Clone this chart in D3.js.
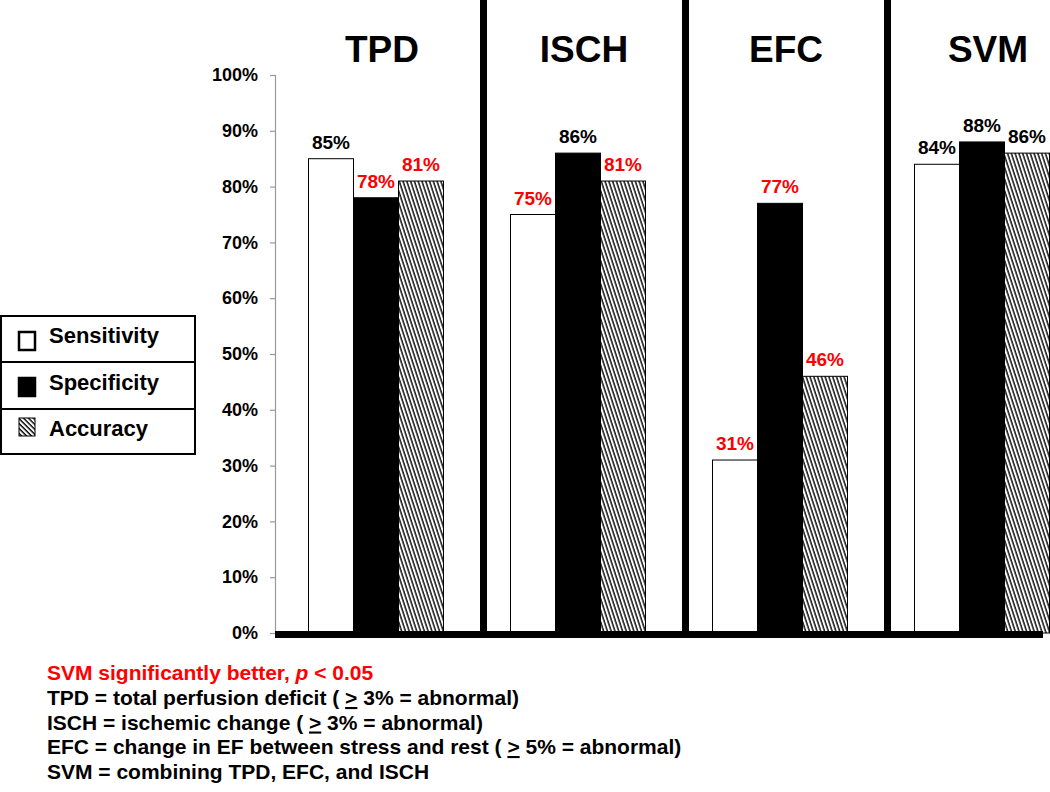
<!DOCTYPE html>
<html>
<head>
<meta charset="utf-8">
<script src="https://cdn.jsdelivr.net/npm/d3@7"></script>
<style>
  body { margin: 0; background: #fff; }
  svg { display: block; font-family: "Liberation Sans", Arial, sans-serif; font-weight: bold; }
</style>
</head>
<body>
<svg id="chart" width="1050" height="792"></svg>
<script>
// Chart data
const groups = ['TPD', 'ISCH', 'EFC', 'SVM'];
const measures = ['Sensitivity', 'Specificity', 'Accuracy'];
const sensitivity = [85, 75, 31, 84];
const specificity = [78, 86, 77, 88];
const accuracy = [81, 81, 46, 86];
// which value labels are printed in red
const sensRed = [false, true, true, false];
const specRed = [true, false, true, false];
const accRed = [true, true, true, false];
const yTicks = [0, 10, 20, 30, 40, 50, 60, 70, 80, 90, 100];
const notes = [
    'TPD = total perfusion deficit ( |>| 3% = abnormal)',
    'ISCH = ischemic change ( |>| 3% = abnormal)',
    'EFC = change in EF between stress and rest ( |>| 5% = abnormal)',
    'SVM = combining TPD, EFC, and ISCH'
];

const svg = d3.select('#chart');

// Scales
const x0 = d3.scaleBand()
    .domain(groups)
    .range([275, 1083]);

const x1 = d3.scaleBand()
    .domain(measures)
    .range([33.5, 33.5 + 135]);

const y = d3.scaleLinear()
    .domain([0, 100])
    .range([633, 75]);

// Patterns
const defs = svg.append('defs');
defs.append('pattern')
    .attr('id', 'hatch')
    .attr('patternUnits', 'userSpaceOnUse')
    .attr('width', 3.6)
    .attr('height', 10)
    .attr('patternTransform', 'rotate(-18)')
    .call(p => {
        p.append('rect').attr('width', 3.6).attr('height', 10).attr('fill', '#fff');
        p.append('line').attr('x1', 1).attr('x2', 1).attr('y1', 0).attr('y2', 10)
            .attr('stroke', '#000').attr('stroke-width', 1.4);
    });
defs.append('pattern')
    .attr('id', 'hatchLegend')
    .attr('patternUnits', 'userSpaceOnUse')
    .attr('width', 3.5)
    .attr('height', 10)
    .attr('patternTransform', 'rotate(-45)')
    .call(p => {
        p.append('rect').attr('width', 3.5).attr('height', 10).attr('fill', '#fff');
        p.append('line').attr('x1', 1).attr('x2', 1).attr('y1', 0).attr('y2', 10)
            .attr('stroke', '#000').attr('stroke-width', 1.4);
    });

const fills = { Sensitivity: '#fff', Specificity: '#000', Accuracy: 'url(#hatch)' };

// Y axis
const yAxis = svg.append('g')
    .attr('transform', 'translate(275,0)')
    .call(d3.axisLeft(y).tickValues(yTicks).tickSize(5).tickPadding(12).tickFormat(d => d + '%'));
yAxis.select('.domain').attr('stroke', '#999').attr('stroke-width', 1.2);
yAxis.selectAll('.tick line').attr('stroke', '#999').attr('stroke-width', 1.2);
yAxis.selectAll('.tick text')
    .attr('fill', '#000')
    .style('font-family', '"Liberation Sans", Arial, sans-serif')
    .style('font-weight', 'bold')
    .style('font-size', '18px');

// Bars
const rows = groups.map((g, i) => ({
    group: g,
    values: [
        { key: 'Sensitivity', value: sensitivity[i], red: sensRed[i] },
        { key: 'Specificity', value: specificity[i], red: specRed[i] },
        { key: 'Accuracy', value: accuracy[i], red: accRed[i] }
    ]
}));

const groupG = svg.selectAll('g.group')
    .data(rows)
    .enter().append('g')
    .attr('class', 'group')
    .attr('transform', d => `translate(${x0(d.group)},0)`);

groupG.selectAll('rect')
    .data(d => d.values)
    .enter().append('rect')
    .attr('x', d => x1(d.key))
    .attr('y', d => y(d.value))
    .attr('width', x1.bandwidth())
    .attr('height', d => y(0) - y(d.value))
    .attr('fill', d => fills[d.key])
    .attr('stroke', '#000')
    .attr('stroke-width', 1);

groupG.selectAll('text.val')
    .data(d => d.values)
    .enter().append('text')
    .attr('class', 'val')
    .attr('x', d => x1(d.key) + x1.bandwidth() / 2)
    .attr('y', d => y(d.value) - 10)
    .attr('text-anchor', 'middle')
    .attr('font-size', 19)
    .attr('fill', d => d.red ? '#ff0000' : '#000')
    .text(d => d.value + '%');

// Group headers
svg.selectAll('text.head')
    .data(groups)
    .enter().append('text')
    .attr('class', 'head')
    .attr('x', d => x0(d) + x0.bandwidth() / 2 + 6)
    .attr('y', 62)
    .attr('text-anchor', 'middle')
    .attr('font-size', 37)
    .text(d => d);

// Thick separators between groups
svg.selectAll('rect.sep')
    .data(groups.slice(1))
    .enter().append('rect')
    .attr('class', 'sep')
    .attr('x', d => x0(d) + 3)
    .attr('y', 0)
    .attr('width', 7)
    .attr('height', y(0) + 4);

// Thick baseline
svg.append('rect')
    .attr('x', 275)
    .attr('y', y(0) - 2)
    .attr('width', 1043 - 275)
    .attr('height', 7)
    .attr('fill', '#000');

// Legend
const legend = svg.append('g');
legend.append('rect')
    .attr('x', 1).attr('y', 316)
    .attr('width', 194).attr('height', 138)
    .attr('fill', 'none').attr('stroke', '#000').attr('stroke-width', 2);
[362, 409].forEach(yy => {
    legend.append('line')
        .attr('x1', 1).attr('x2', 195).attr('y1', yy).attr('y2', yy)
        .attr('stroke', '#000').attr('stroke-width', 2);
});
const legendFills = ['#fff', '#000', 'url(#hatchLegend)'];
const legendTop = [332, 378, 418];
const legendBase = [343, 390, 436];
measures.forEach((m, i) => {
    legend.append('rect')
        .attr('x', 19).attr('y', legendTop[i])
        .attr('width', 16).attr('height', 18)
        .attr('fill', legendFills[i])
        .attr('stroke', '#000').attr('stroke-width', i === 2 ? 1 : 2.5);
    legend.append('text')
        .attr('x', 49).attr('y', legendBase[i])
        .attr('font-size', 22)
        .text(m);
});

// Footnotes
const foot = svg.append('g').attr('font-size', 21);
const red = foot.append('text').attr('x', 47).attr('y', 680).attr('fill', '#ff0000');
red.append('tspan').text('SVM significantly better, ');
red.append('tspan').attr('font-style', 'italic').text('p');
red.append('tspan').text(' < 0.05');

notes.forEach((n, i) => {
    const t = foot.append('text').attr('x', 47).attr('y', 705 + i * 24.5);
    n.split('|').forEach((part, j) => {
        const ts = t.append('tspan').text(part);
        if (j === 1) ts.attr('text-decoration', 'underline');
    });
});
</script>
</body>
</html>
